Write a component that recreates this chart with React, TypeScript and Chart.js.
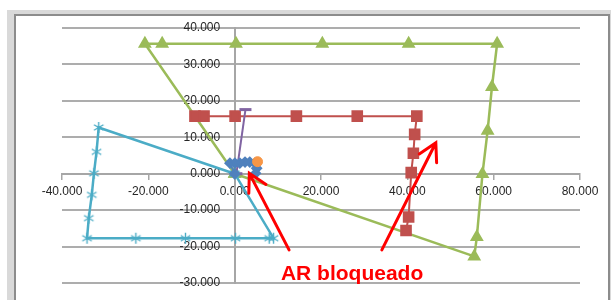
import React, { useEffect, useRef } from "react";
import { Chart, registerables } from "chart.js";

Chart.register(...registerables);

// ---- axis settings ----
const xMin = -40;
const xMax = 80;
const xStep = 20;
const yMin = -30;
const yMax = 40;
const yStep = 10;

// ---- series ----
const greenX = [0, -20.8, -16.8, 0.3, 20.3, 40.3, 60.8, 59.6, 58.6, 57.4, 56.1, 55.5, 0];
const greenY = [0, 35.7, 35.7, 35.7, 35.7, 35.7, 35.7, 23.8, 11.8, -0.1, -17.4, -22.7, 0];

const redX = [-9.2, -7.1, 0.1, 14.3, 28.4, 42.2, 41.7, 41.4, 40.9, 40.3, 39.7];
const redY = [15.8, 15.8, 15.8, 15.8, 15.8, 15.8, 10.8, 5.6, 0.3, -11.9, -15.6];

const cyanX = [0, -31.5, -32.0, -32.6, -33.1, -33.8, -34.2, -22.9, -11.4, 0.2, 8.0, 9.0, 0];
const cyanY = [0, 12.7, 6.0, 0.1, -5.8, -12.2, -17.7, -17.7, -17.7, -17.7, -17.7, -17.7, 0];

const purpleX = [0.4, 2.5];
const purpleY = [0, 17.6];

const blueX = [0, -1.1, 0.05, 1.2, 2.4, 3.5, 4.7, 5.1, 4.85];
const blueY = [0, 2.9, 2.9, 2.9, 3.2, 3.2, 2.9, 1.5, 0.1];

const orangeX = [5.3];
const orangeY = [3.3];

// ---- annotation (data units) ----
const arrowFromX = [12.6, 34.1];
const arrowFromY = [-20.9, -20.9];
const arrowToX = [3.4, 46.6];
const arrowToY = [0.1, 8.5];
const noteText = "AR bloqueado";
const noteX = 27.2;
const noteY = -29.3;

const pts = (xs: number[], ys: number[]) => xs.map((x, i) => ({ x, y: ys[i] }));
const fmt = (v: number | string) => Number(v).toFixed(3);
const TICK_FONT = "12px 'Liberation Sans', Arial, sans-serif";
const TICK_COLOR = "#262626";

function makeAsterisk(color: string) {
  const c = document.createElement("canvas");
  const s = 13;
  c.width = s;
  c.height = s;
  const g = c.getContext("2d")!;
  g.strokeStyle = color;
  g.lineWidth = 1.4;
  const cx = s / 2, cy = s / 2, r = 5.5;
  g.beginPath();
  for (const a of [90, 30, 150]) {
    const rad = (a * Math.PI) / 180;
    g.moveTo(cx - r * Math.cos(rad), cy - r * Math.sin(rad));
    g.lineTo(cx + r * Math.cos(rad), cy + r * Math.sin(rad));
  }
  g.stroke();
  return c;
}

const framePlugin = {
  id: "frame",
  beforeDraw(chart: any) {
    const { ctx, width, height } = chart;
    ctx.save();
    ctx.fillStyle = "#ffffff";
    ctx.fillRect(0, 0, width, height);
    ctx.fillStyle = "#D9D9D9";
    ctx.fillRect(7, 10, width - 7, height - 10);
    ctx.fillStyle = "#8C8C8C";
    ctx.fillRect(14, 14, 596, height - 14);
    ctx.fillStyle = "#ffffff";
    ctx.fillRect(16, 16, 592, height - 16);
    ctx.restore();
  },
};

// y tick labels, placed to the left of the axis that crosses at x = 0
const yLabelPlugin = {
  id: "yLabels",
  beforeDatasetsDraw(chart: any) {
    const { ctx } = chart;
    const xs = chart.scales.x;
    const ys = chart.scales.y;
    const x0 = xs.getPixelForValue(0) - 14.5;
    ctx.save();
    ctx.font = TICK_FONT;
    ctx.fillStyle = TICK_COLOR;
    ctx.textAlign = "right";
    ctx.textBaseline = "middle";
    for (const t of ys.ticks) {
      ctx.fillText(fmt(t.value), x0, ys.getPixelForValue(t.value));
    }
    ctx.restore();
  },
};

const notePlugin = {
  id: "note",
  afterDatasetsDraw(chart: any) {
    const { ctx } = chart;
    const xs = chart.scales.x;
    const ys = chart.scales.y;
    ctx.save();
    ctx.strokeStyle = "#FF0000";
    ctx.fillStyle = "#FF0000";
    ctx.lineWidth = 3;
    ctx.lineCap = "round";
    for (let i = 0; i < arrowFromX.length; i++) {
      const x0 = xs.getPixelForValue(arrowFromX[i]);
      const y0 = ys.getPixelForValue(arrowFromY[i]);
      const x1 = xs.getPixelForValue(arrowToX[i]);
      const y1 = ys.getPixelForValue(arrowToY[i]);
      const ang = Math.atan2(y0 - y1, x0 - x1);
      const head = 20;
      const spread = (29 * Math.PI) / 180;
      ctx.beginPath();
      ctx.moveTo(x0, y0);
      ctx.lineTo(x1, y1);
      ctx.moveTo(x1 + head * Math.cos(ang - spread), y1 + head * Math.sin(ang - spread));
      ctx.lineTo(x1, y1);
      ctx.lineTo(x1 + head * Math.cos(ang + spread), y1 + head * Math.sin(ang + spread));
      ctx.stroke();
    }
    ctx.font = "bold 21px 'Liberation Sans', Arial, sans-serif";
    ctx.textAlign = "center";
    ctx.textBaseline = "alphabetic";
    ctx.fillText(noteText, xs.getPixelForValue(noteX), ys.getPixelForValue(noteY));
    ctx.restore();
  },
};

export default function App() {
  const ref = useRef<HTMLCanvasElement>(null);
  useEffect(() => {
    document.body.style.margin = "0";
    const star = makeAsterisk("#4BACC6");
    const tickFont = { family: "'Liberation Sans', Arial, sans-serif", size: 12 };
    const chart = new Chart(ref.current!, {
      type: "scatter",
      data: {
        datasets: [
          {
            data: pts(orangeX, orangeY),
            showLine: false,
            backgroundColor: "#F79646",
            borderColor: "#F79646",
            pointStyle: "circle",
            pointRadius: 5,
          },
          {
            data: pts(blueX, blueY),
            showLine: true,
            borderColor: "#4F81BD",
            backgroundColor: "#4F81BD",
            borderWidth: 2,
            pointStyle: "rectRot",
            pointRadius: 4.5,
          },
          {
            data: pts(purpleX, purpleY),
            showLine: true,
            borderColor: "#8064A2",
            backgroundColor: "#8064A2",
            borderWidth: 2,
            pointStyle: "line",
            pointRadius: 6,
            pointBorderWidth: 3,
          },
          {
            data: pts(cyanX, cyanY),
            showLine: true,
            borderColor: "#4BACC6",
            backgroundColor: "#4BACC6",
            borderWidth: 2.5,
            pointStyle: star as any,
            pointRadius: 6,
          },
          {
            data: pts(redX, redY),
            showLine: true,
            borderColor: "#C0504D",
            backgroundColor: "#C0504D",
            borderWidth: 2,
            pointStyle: "rect",
            pointRadius: 6.8,
          },
          {
            data: pts(greenX, greenY),
            showLine: true,
            borderColor: "#9BBB59",
            backgroundColor: "#9BBB59",
            borderWidth: 2.5,
            pointStyle: "triangle",
            pointRadius: 5.5,
          },
        ],
      },
      options: {
        animation: false,
        responsive: true,
        maintainAspectRatio: false,
        layout: { padding: { left: 62, right: 31, top: 28, bottom: 17 } },
        plugins: { legend: { display: false }, tooltip: { enabled: false } },
        elements: { line: { tension: 0 } },
        scales: {
          x: {
            type: "linear",
            min: xMin,
            max: xMax,
            position: { y: 0 } as any,
            ticks: {
              stepSize: xStep,
              callback: (v: any) => fmt(v),
              color: TICK_COLOR,
              font: tickFont,
              padding: 6,
              maxRotation: 0,
              autoSkip: false,
            },
            grid: { drawOnChartArea: false, drawTicks: true, tickLength: 5, color: "#A6A6A6", lineWidth: 1.5 },
            border: { display: true, color: "#A6A6A6", width: 2 },
          },
          y: {
            type: "linear",
            min: yMin,
            max: yMax,
            position: { x: 0 } as any,
            ticks: {
              stepSize: yStep,
              display: false,
              autoSkip: false,
            },
            grid: { color: "#ADADAD", lineWidth: 2, drawTicks: false },
            border: { display: true, color: "#A6A6A6", width: 2 },
          },
        },
      },
      plugins: [framePlugin, yLabelPlugin, notePlugin],
    });
    return () => chart.destroy();
  }, []);
  return (
    <div style={{ position: "relative", width: 611, height: 300 }}>
      <canvas ref={ref} />
    </div>
  );
}
